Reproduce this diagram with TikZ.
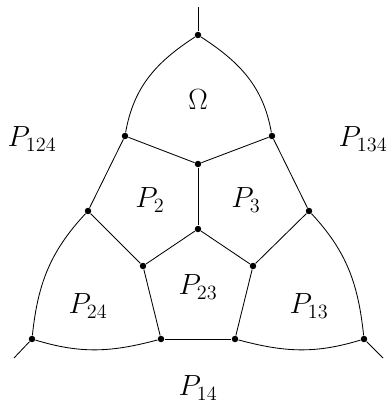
\documentclass[tikz,border=0pt]{standalone}
\usepackage{amsmath,amssymb}
\usetikzlibrary{positioning}

\begin{document}
\begin{tikzpicture}[
  x=0.025cm, y=-0.025cm, line width=0.6pt, font=\huge,
  dot/.style={circle, fill, inner sep=0pt, minimum size=4.6pt},
  lbl/.style={inner sep=0pt}]
\useasboundingbox (0,0) rectangle (391,404);
\node[dot] (top) at (198,35) {};
\node[dot] (oml) at (125,136) {};
\node[dot] (omr) at (272,136) {};
\node[dot] (ctr) at (198,164) {};
\node[dot] (ml) at (88,211) {};
\node[dot] (mr) at (309,211) {};
\node[dot] (pt) at (198,229) {};
\node[dot] (pl) at (143,266) {};
\node[dot] (pr) at (253,266) {};
\node[dot] (pbl) at (161,339) {};
\node[dot] (pbr) at (235,339) {};
\node[dot] (bl) at (32,339) {};
\node[dot] (br) at (364,339) {};
\coordinate (et) at (198,7);
\coordinate (el) at (14,358);
\coordinate (er) at (383,358);
\foreach \a/\b in {et/top,oml/ctr,ctr/omr,ctr/pt,oml/ml,omr/mr,ml/pl,mr/pr,
  pt/pl,pt/pr,pl/pbl,pr/pbr,pbl/pbr,bl/el,br/er} \draw (\a)--(\b);
\draw (top) to[out=213, in=80] (oml);
\draw (top) to[out=-33, in=100] (omr);
\draw (ml) to[out=227, in=84] (bl);
\draw (mr) to[out=-47, in=96] (br);
\draw (bl) to[out=-17, in=195] (pbl);
\draw (pbr) to[out=-15, in=197] (br);
\node[lbl] (lom) at (198,100) {$\Omega$};
\node[lbl] (l124) at (32,139) {$P_{124}$};
\node[lbl] (l134) at (363,139) {$P_{134}$};
\node[lbl] (l2) at (150,200) {$P_2$};
\node[lbl] (l3) at (246,200) {$P_3$};
\node[lbl] (l24) at (88,306) {$P_{24}$};
\node[lbl] (l23) at (198,287) {$P_{23}$};
\node[lbl] (l13) at (309,306) {$P_{13}$};
\node[lbl] (l14) at (198,388) {$P_{14}$};
\end{tikzpicture}
\end{document}
